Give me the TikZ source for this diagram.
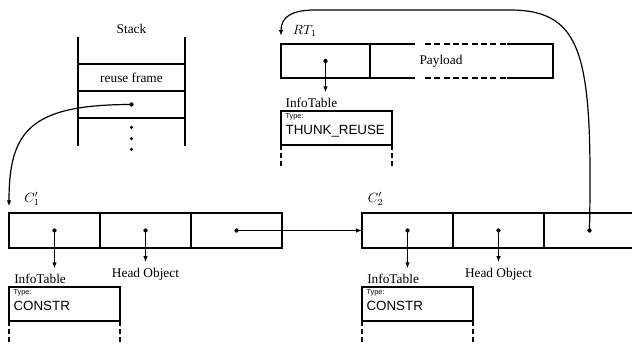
\documentclass[tikz,border=0pt]{standalone}
\usepackage{fontspec}
\setmainfont{Liberation Serif}
\setsansfont{Liberation Sans}
\usepackage{tikz}
\usetikzlibrary{positioning,arrows.meta,calc}
\tikzset{
    cell/.style={
        rectangle,
        draw,
        minimum width=68.25pt,
        minimum height=26.25pt,
        inner sep=0pt,
        outer sep=0pt,
    },
    stackframe/.style={
        rectangle,
        draw,
        minimum width=80.25pt,
        minimum height=20.25pt,
        inner sep=0pt,
        outer sep=0pt,
    },
    infobox/.style={
        rectangle,
        draw,
        minimum width=83.25pt,
        minimum height=25.5pt,
        inner sep=0pt,
        outer sep=0pt,
    },
    infotext/.style={
        anchor=north west,
        inner xsep=3pt,
        inner ysep=1.5pt,
        align=left,
        font=\sffamily,
    },
    tag/.style={
        inner sep=1pt,
    },
    ptr/.style={
        -{Latex[length=4.5pt,width=3.4pt]},
        line width=0.9pt,
    },
    dot/.style={
        circle,
        fill,
        inner sep=0pt,
        minimum size=3.2pt,
    },
    tail/.style={
        dash pattern=on 3.5pt off 2.5pt,
    },
    gap/.style={
        dash pattern=on 4.5pt off 2.5pt,
    },
}
\newcommand{\typetag}{{\fontsize{5.5}{6}\selectfont Type:}}

\begin{document}
\begin{tikzpicture}[x=0.75pt, y=-0.75pt, line width=0.9pt]
    \useasboundingbox (0,0) rectangle (632,347);
    \clip (0,0) rectangle (632,347);

    % stack with the reuse frame
    \node[stackframe] (reuse) at (131.5,77.5) {reuse frame};
    \node[stackframe, below=0pt of reuse] (slot) {};
    \draw ([yshift=20.25pt]reuse.north west) -- ([yshift=-21pt]slot.south west);
    \draw ([yshift=20.25pt]reuse.north east) -- ([yshift=-21pt]slot.south east);
    \node[tag, anchor=base] (stacklbl) at ([yshift=23pt]reuse.north) {Stack};
    \node[dot] (sdot) at (slot.center) {};
    \foreach \d in {7.1pt,15.4pt,23.6pt}
        \node[dot, minimum size=2.6pt] at ([yshift=-\d]slot.south) {};

    % reuse thunk RT_1
    \node[cell, minimum width=66.75pt, minimum height=25.5pt] (rt1a) at (325.5,61) {};
    \node[cell, draw=none, minimum width=137.25pt, minimum height=25.5pt, right=0pt of rt1a] (payload) {};
    \draw (payload.north west) -- +(45,0) (payload.south west) -- +(45,0);
    \draw ($(payload.north east)+(-46,0)$) -- (payload.north east) -- (payload.south east) -- +(-46,0);
    \draw[gap] ($(payload.north west)+(55,0)$) -- ($(payload.north east)+(-46,0)$);
    \draw[gap] ($(payload.south west)+(55,0)$) -- ($(payload.south east)+(-46,0)$);
    \node[tag] (paylbl) at ($(payload.west)+(71,0)$) {Payload};
    \node[tag, anchor=base west] (rt1lbl) at ([shift={(7.5pt,7.5pt)}]rt1a.north west) {$RT_1$};
    \node[dot] (rt1dot) at (rt1a.center) {};
    \node[infobox, below=24.75pt of rt1a.south west, anchor=north west] (rt1info) {};
    \node[infotext] (rt1type) at (rt1info.north west) {\typetag\\THUNK\_REUSE};
    \node[tag, anchor=base west] (rt1tlab) at ([shift={(2pt,3pt)}]rt1info.north west) {InfoTable};
    \draw[ptr, shorten >=2.5pt] (rt1dot.center) -- (rt1dot.center |- rt1tlab.north);
    \draw[tail] (rt1info.south west) -- +(0,22);
    \draw[tail] (rt1info.south east) -- +(0,22);

    % constructor C'_1
    \node[cell] (c1a) at (54.5,230.5) {};
    \node[cell, right=0pt of c1a] (c1b) {};
    \node[cell, right=0pt of c1b] (c1c) {};
    \node[tag, anchor=base west] (c1lbl) at ([shift={(10pt,8pt)}]c1a.north west) {$C'_1$};
    \coordinate (c1in) at ([yshift=5pt]c1a.north west);
    \foreach \n in {a,b,c}
        \node[dot] (c1dot\n) at (c1\n.center) {};
    \node[infobox, below=29.25pt of c1a.south west, anchor=north west] (c1info) {};
    \node[infotext] (c1type) at (c1info.north west) {\typetag\\CONSTR};
    \node[tag, anchor=base west] (c1tlab) at ([shift={(2.5pt,3pt)}]c1info.north west) {InfoTable};
    \node[tag, anchor=base] (c1head) at ([yshift=-22pt]c1b.south) {Head Object};
    \draw[ptr, shorten >=2.5pt] (c1dota.center) -- (c1dota.center |- c1tlab.north);
    \draw[ptr, shorten >=3pt] (c1dotb.center) -- (c1head.north);
    \draw[tail] (c1info.south west) -- +(0,22);
    \draw[tail] (c1info.south east) -- +(0,22);

    % constructor C'_2
    \node[cell] (c2a) at (407.5,230.5) {};
    \node[cell, right=0pt of c2a] (c2b) {};
    \node[cell, right=0pt of c2b] (c2c) {};
    \node[tag, anchor=base west] (c2lbl) at ([shift={(3pt,8pt)}]c2a.north west) {$C'_2$};
    \foreach \n in {a,b,c}
        \node[dot] (c2dot\n) at (c2\n.center) {};
    \node[infobox, below=29.25pt of c2a.south west, anchor=north west] (c2info) {};
    \node[infotext] (c2type) at (c2info.north west) {\typetag\\CONSTR};
    \node[tag, anchor=base west] (c2tlab) at ([shift={(2.5pt,3pt)}]c2info.north west) {InfoTable};
    \node[tag, anchor=base] (c2head) at ([yshift=-22pt]c2b.south) {Head Object};
    \draw[ptr, shorten >=2.5pt] (c2dota.center) -- (c2dota.center |- c2tlab.north);
    \draw[ptr, shorten >=3pt] (c2dotb.center) -- (c2head.north);
    \draw[tail] (c2info.south west) -- +(0,22);
    \draw[tail] (c2info.south east) -- +(0,22);

    % pointers between the objects
    \draw[ptr] (sdot.center) .. controls +(-102,0) and +(0,-75) .. (c1in);
    \draw[ptr] (c1dotc.center) -- (c2a.west);
    \coordinate (loopR) at (510,10);
    \coordinate (loopL) at (315,10);
    \coordinate (rt1in) at ([yshift=6pt]rt1a.north west);
    \draw[ptr] (c2dotc.center) .. controls +(3,-171) and +(75,0) .. (loopR)
        -- (loopL) .. controls +(-25,0) and +(0,-18) .. (rt1in);
\end{tikzpicture}
\end{document}
